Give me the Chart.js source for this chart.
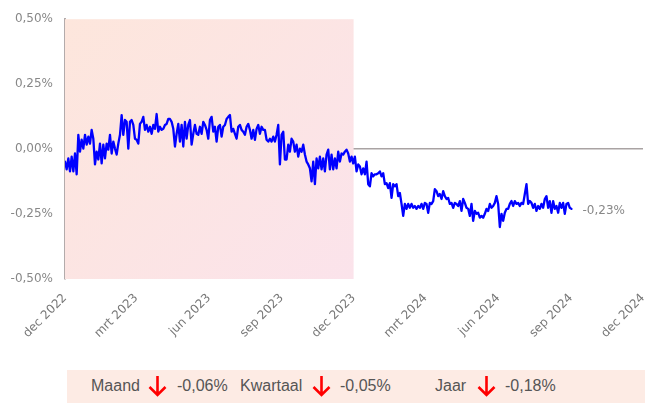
<!DOCTYPE html>
<html>
<head>
<meta charset="utf-8">
<script src="https://cdn.jsdelivr.net/npm/chart.js@4"></script>
<style>
  body { margin: 0; background: #fff; width: 645px; height: 403px; overflow: hidden; position: relative; }
  #wrap { position: absolute; left: 0; top: 0; width: 645px; height: 345px; }
  #summary {
    position: absolute; left: 67px; top: 370px; width: 578px; height: 33px;
    background: #fdebe4; font-family: "Liberation Sans", Arial, sans-serif;
    font-size: 16px; color: #555;
  }
  #summary span { position: absolute; top: 7px; white-space: nowrap; }
  #summary svg { position: absolute; top: 5px; }
</style>
</head>
<body>
<div id="wrap"><canvas id="myChart"></canvas></div>
<div id="summary"></div>
<script>
// days since 1 dec 2022, one value about every two days
const START_DAY = 0;
const STEP_DAYS = 2.107;

const valuesDec22 = [
    -0.048, -0.078, -0.036, -0.086, -0.029, -0.086, -0.017, -0.097, 0.055, -0.010,
    0.036, 0.002, 0.055, 0.017, 0.048, 0.021, 0.074, 0.040, -0.059, -0.010,
    -0.040, 0.021, -0.055, 0.017, -0.036, 0.021, -0.002, 0.055, -0.017, 0.029,
    0.002, -0.021, 0.021, 0.055, 0.131, 0.055, 0.112, 0.105, 0.002, 0.105,
    0.112, 0.093, 0.040, 0.036, 0.021, 0.097, 0.105, 0.124, 0.074, 0.093,
    0.067, 0.086, 0.059, 0.093, 0.078, 0.135, 0.067, 0.086, 0.074, 0.078
];
const valuesJun23 = [
    0.093, 0.097, 0.116, 0.116, 0.105, 0.078, 0.010, 0.059, 0.097, 0.029,
    0.093, 0.010, 0.105, 0.040, 0.093, 0.112, 0.017, 0.059, 0.093, 0.059,
    0.055, 0.086, 0.059, 0.105, 0.093, 0.074, 0.040, 0.112, 0.124, 0.067,
    0.086, 0.029, 0.086, 0.093, 0.048, 0.086, 0.093, 0.116, 0.124, 0.131,
    0.067, 0.078, 0.059, 0.040, 0.086, 0.093, 0.074, 0.067, 0.055, 0.086,
    0.097, 0.074, 0.040, 0.074, 0.036, 0.078, 0.093, 0.059, 0.086, 0.074
];
const valuesOct23 = [
    0.074, 0.036, 0.029, 0.040, 0.029, 0.048, 0.029, 0.055, 0.093, -0.059,
    0.055, 0.067, -0.040, -0.040, 0.017, -0.010, 0.040, 0.029, -0.010, 0.017,
    -0.029, 0.002, -0.010, 0.017, -0.021, -0.048, -0.059, -0.074, -0.124, -0.048,
    -0.135, -0.036, -0.074, -0.029, -0.078, -0.036, -0.086, -0.021, -0.002, -0.078,
    -0.021, -0.078, -0.036, -0.074, -0.010, -0.048, -0.017, -0.021, -0.010, -0.002,
    -0.017, -0.048, -0.029, -0.055, -0.029, -0.086, -0.059, -0.067, -0.097, -0.074
];
const valuesJan24 = [
    -0.097, -0.048, -0.135, -0.143, -0.093, -0.105, -0.097, -0.097, -0.093, -0.086,
    -0.105, -0.093, -0.135, -0.131, -0.150, -0.131, -0.188, -0.135, -0.143, -0.135,
    -0.181, -0.169, -0.211, -0.257, -0.211, -0.230, -0.211, -0.226, -0.211, -0.226,
    -0.219, -0.230, -0.219, -0.226, -0.211, -0.230, -0.207, -0.211, -0.245, -0.207,
    -0.211, -0.200, -0.154, -0.162, -0.181, -0.173, -0.192, -0.162, -0.181, -0.192,
    -0.188, -0.211, -0.207, -0.226, -0.207, -0.211, -0.219, -0.200, -0.238, -0.192
];
const valuesMay24 = [
    -0.207, -0.226, -0.230, -0.257, -0.211, -0.276, -0.238, -0.249, -0.245, -0.264,
    -0.257, -0.264, -0.249, -0.230, -0.238, -0.211, -0.226, -0.219, -0.207, -0.181,
    -0.211, -0.300, -0.249, -0.276, -0.245, -0.230, -0.230, -0.211, -0.200, -0.219,
    -0.200, -0.211, -0.207, -0.219, -0.207, -0.211, -0.173, -0.135, -0.211, -0.200,
    -0.207, -0.226, -0.211, -0.238, -0.219, -0.230, -0.211, -0.226, -0.192, -0.181,
    -0.226, -0.200, -0.245, -0.200, -0.230, -0.219, -0.245, -0.207, -0.226, -0.207,
    -0.249, -0.211, -0.207, -0.226, -0.230
];

const tickDays = [0, 90, 182, 274, 365, 456, 548, 640, 731];
const tickLabels = ['dec 2022', 'mrt 2023', 'jun 2023', 'sep 2023', 'dec 2023',
    'mrt 2024', 'jun 2024', 'sep 2024', 'dec 2024'];
const shadeFrom = 0;
const shadeTo = 365;

const summaryLabels = ['Maand', 'Kwartaal', 'Jaar'];
const summaryValues = ['-0,06%', '-0,05%', '-0,18%'];

const allValues = [].concat(valuesDec22, valuesJun23, valuesOct23, valuesJan24, valuesMay24);
const points = allValues.map((v, i) => ({ x: START_DAY + i * STEP_DAYS, y: v }));

const tickFont = { family: '"DejaVu Sans", sans-serif', size: 12 };

function formatPct(v) {
    return v.toFixed(2).replace('.', ',') + '%';
}

const shadePlugin = {
    id: 'shade',
    beforeDatasetsDraw(chart) {
        const ctx = chart.ctx;
        const area = chart.chartArea;
        const x0 = chart.scales.x.getPixelForValue(shadeFrom);
        const x1 = chart.scales.x.getPixelForValue(shadeTo);
        const grad = ctx.createLinearGradient(x0, area.top, x1, area.bottom);
        grad.addColorStop(0, '#fde6dc');
        grad.addColorStop(1, '#fbe3eb');
        ctx.save();
        ctx.fillStyle = grad;
        ctx.fillRect(x0, area.top, x1 - x0, area.bottom - area.top);
        ctx.restore();
    }
};

const lastLabelPlugin = {
    id: 'lastLabel',
    afterDatasetsDraw(chart) {
        const meta = chart.getDatasetMeta(0);
        const last = meta.data[meta.data.length - 1];
        const ctx = chart.ctx;
        ctx.save();
        ctx.font = '12px "DejaVu Sans", sans-serif';
        ctx.fillStyle = '#888';
        ctx.textBaseline = 'middle';
        ctx.fillText(formatPct(allValues[allValues.length - 1]), last.x + 11, last.y + 2);
        ctx.restore();
    }
};

const ctx = document.getElementById('myChart').getContext('2d');
const myChart = new Chart(ctx, {
    type: 'line',
    data: {
        datasets: [{
            data: points,
            borderColor: '#0000ff',
            borderWidth: 2.3,
            borderJoinStyle: 'round',
            borderCapStyle: 'round',
            pointRadius: 0,
            tension: 0
        }]
    },
    options: {
        responsive: true,
        maintainAspectRatio: false,
        animation: false,
        layout: { padding: { top: 8, right: 2, left: 0, bottom: 0 } },
        plugins: {
            legend: { display: false },
            tooltip: { enabled: false }
        },
        scales: {
            x: {
                type: 'linear',
                min: 0,
                max: 731,
                afterBuildTicks: scale => {
                    scale.ticks = tickDays.map(d => ({ value: d }));
                },
                afterFit: scale => {
                    scale.height = 66;
                    scale.paddingLeft = 0;
                    scale.paddingRight = 0;
                },
                ticks: {
                    autoSkip: false,
                    minRotation: 45,
                    maxRotation: 45,
                    padding: 4,
                    color: '#777',
                    font: tickFont,
                    callback: value => tickLabels[tickDays.indexOf(value)]
                },
                grid: { display: false },
                border: { display: false }
            },
            y: {
                min: -0.5,
                max: 0.5,
                afterFit: scale => { scale.width = 65; },
                ticks: {
                    stepSize: 0.25,
                    color: '#888',
                    padding: 12,
                    font: tickFont,
                    callback: value => formatPct(value)
                },
                grid: {
                    drawTicks: false,
                    color: c => (c.tick && c.tick.value === 0 ? '#a9a3a3' : 'rgba(0,0,0,0)'),
                    lineWidth: 1.5
                },
                border: { display: true, color: '#b3abab', width: 2 }
            }
        }
    },
    plugins: [shadePlugin, lastLabelPlugin]
});

// summary bar below the chart
const summary = document.getElementById('summary');
const summaryPos = [[24, 81, 110], [173, 245, 273], [368, 410, 438]];
const arrowSvg = '<svg width="19" height="22" viewBox="0 0 19 22">' +
    '<path d="M9.5 1 V20 M1.5 12 L9.5 20 L17.5 12" fill="none" stroke="#f00" stroke-width="2.6"/></svg>';
summaryLabels.forEach((label, i) => {
    const p = summaryPos[i];
    summary.insertAdjacentHTML('beforeend',
        `<span style="left:${p[0]}px">${label}</span>` +
        arrowSvg.replace('<svg ', `<svg style="left:${p[1]}px" `) +
        `<span style="left:${p[2]}px">${summaryValues[i]}</span>`);
});
</script>
</body>
</html>
